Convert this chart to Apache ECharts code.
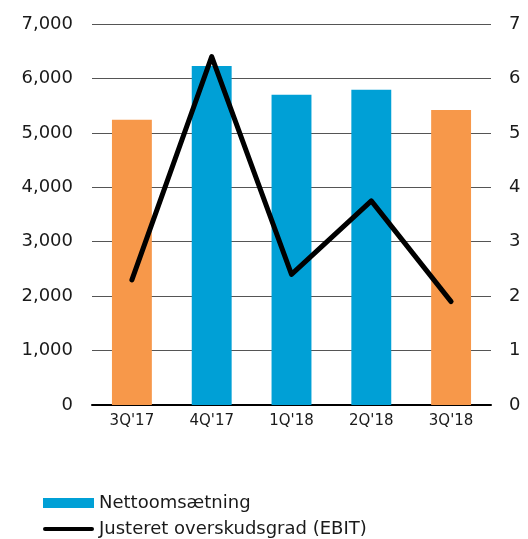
<!DOCTYPE html>
<html>
<head>
<meta charset="utf-8">
<script src="https://cdn.jsdelivr.net/npm/echarts@6/dist/echarts.min.js"></script>
<style>
  html, body {margin: 0; padding: 0; background: #fff;}
  #chart {width: 528px; height: 539px;}
</style>
</head>
<body>
<div id="chart"></div>
<script>
const quarters = ["3Q'17", "4Q'17", "1Q'18", "2Q'18", "3Q'18"];
const revenue = [5240, 6230, 5700, 5790, 5420];
const ebitMargin = [2.3, 6.4, 2.4, 3.75, 1.9];
const highlighted = [true, false, false, false, true];
const leftTicks = [0, 7000, 1000];
const rightTicks = [0, 7, 1];

const blue = '#00A0D6';
const orange = '#F7984A';
const font = 'DejaVu Sans, Verdana, sans-serif';

const chart = echarts.init(document.getElementById('chart'));
chart.setOption({
  animation: false,
  textStyle: {fontFamily: font},
  grid: {left: 92, right: 37, top: 24, bottom: 134},
  legend: {
    orient: 'vertical',
    left: 43,
    top: 494,
    padding: 0,
    itemGap: 8,
    itemWidth: 51,
    itemHeight: 10,
    textStyle: {fontSize: 18, color: '#1a1a1a', fontFamily: font, lineHeight: 18},
    data: [
      {name: 'Nettoomsætning', icon: 'rect'},
      {name: 'Justeret overskudsgrad (EBIT)', icon: 'path://M2,0 L49,0 A2,2 0 0 1 49,4 L2,4 A2,2 0 0 1 2,0 Z'}
    ]
  },
  xAxis: {
    type: 'category',
    data: quarters,
    axisTick: {show: false},
    axisLine: {lineStyle: {color: '#000', width: 2}},
    axisLabel: {fontSize: 15, color: '#1a1a1a', margin: 9}
  },
  yAxis: [
    {
      type: 'value',
      min: leftTicks[0], max: leftTicks[1], interval: leftTicks[2],
      axisLine: {show: false},
      axisTick: {show: false},
      splitLine: {lineStyle: {color: '#555', width: 1}},
      axisLabel: {
        fontSize: 18, color: '#1a1a1a', margin: 19,
        formatter: v => v.toLocaleString('en-US')
      }
    },
    {
      type: 'value',
      min: rightTicks[0], max: rightTicks[1], interval: rightTicks[2],
      axisLine: {show: false},
      axisTick: {show: false},
      splitLine: {show: false},
      axisLabel: {fontSize: 18, color: '#1a1a1a', margin: 18}
    }
  ],
  series: [
    {
      name: 'Nettoomsætning',
      type: 'bar',
      barWidth: '50%',
      itemStyle: {color: blue},
      data: revenue.map((v, i) => ({
        value: v,
        itemStyle: {color: highlighted[i] ? orange : blue}
      }))
    },
    {
      name: 'Justeret overskudsgrad (EBIT)',
      type: 'line',
      yAxisIndex: 1,
      data: ebitMargin,
      symbol: 'none',
      itemStyle: {color: '#000'},
      lineStyle: {color: '#000', width: 5, cap: 'round', join: 'round'}
    }
  ]
});
</script>
</body>
</html>
